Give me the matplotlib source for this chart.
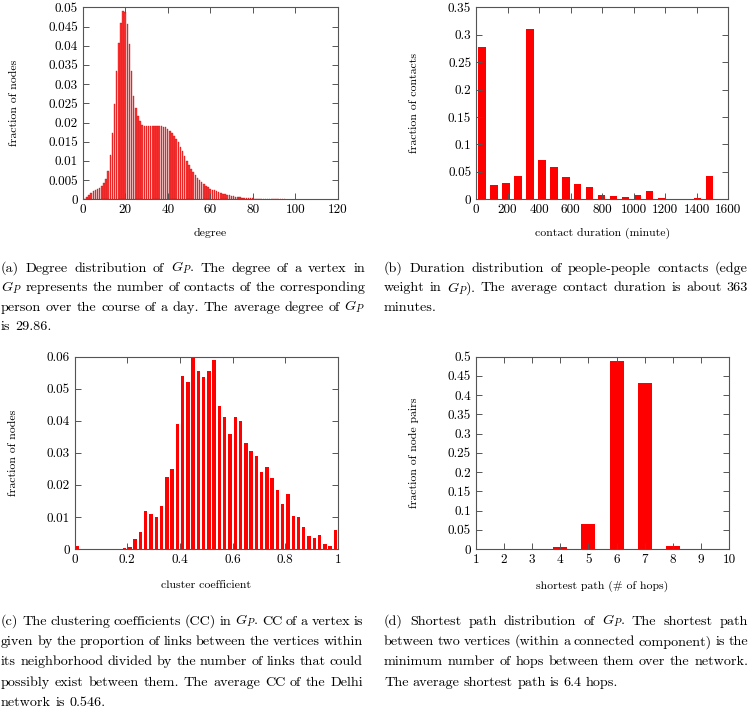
import matplotlib
matplotlib.use('Agg')
import matplotlib.pyplot as plt
import numpy as np
from matplotlib.ticker import FuncFormatter, MultipleLocator
from matplotlib.transforms import IdentityTransform

plt.rcParams['font.family'] = 'cmr10'
plt.rcParams['mathtext.fontset'] = 'cm'
plt.rcParams['axes.formatter.use_mathtext'] = True

# (a) degree distribution
degree = np.arange(1, 96)
deg_frac = [0.0002, 0.0006, 0.0011, 0.0017, 0.0021, 0.0024, 0.0027, 0.0030, 0.0035, 0.0042,
            0.0053, 0.0073, 0.0115, 0.0172, 0.0248, 0.0335, 0.0408, 0.0458, 0.0490, 0.0487,
            0.0457, 0.0405, 0.0335, 0.0268, 0.0238, 0.0218, 0.0203, 0.0194, 0.0191, 0.0191,
            0.0191, 0.0192, 0.0191, 0.0191, 0.0192, 0.0191, 0.0190, 0.0189, 0.0187, 0.0183,
            0.0178, 0.0172, 0.0165, 0.0157, 0.0148, 0.0137, 0.0125, 0.0112, 0.0100, 0.0089,
            0.0079, 0.0070, 0.0062, 0.0055, 0.0049, 0.0044, 0.0039, 0.0035, 0.0031, 0.0028,
            0.0025, 0.0023, 0.0021, 0.0019, 0.0017, 0.0015, 0.0013, 0.0012, 0.0010, 0.0009,
            0.0008, 0.0007, 0.0006, 0.0005, 0.00045, 0.0004, 0.00035, 0.0003, 0.0003, 0.00025,
            0.0002, 0.00018, 0.00015, 0.00012, 0.0001, 0.00009, 0.00008, 0.00007, 0.00006, 0.00005,
            0.00004, 0.00003, 0.00003, 0.00002, 0.00002]

# (b) contact duration (minutes)
dur_bins = np.arange(20) * 76 + 38
dur_frac = [0.278, 0.0255, 0.0305, 0.042, 0.310, 0.072, 0.059, 0.041, 0.028, 0.0225,
            0.008, 0.0067, 0.0049, 0.0085, 0.0158, 0.0019, 0.0007, 0.0012, 0.0017, 0.0425]

# (c) cluster coefficient
cc_bins = np.arange(50) * 0.02 + 0.01
cc_frac = [0.0008, 0, 0, 0, 0, 0, 0, 0, 0, 0.0002,
           0.0005, 0.003, 0.0052, 0.012, 0.011, 0.010, 0.0135, 0.0225, 0.025, 0.039,
           0.054, 0.052, 0.060, 0.0555, 0.0537, 0.0555, 0.059, 0.0447, 0.0413, 0.036,
           0.0412, 0.0398, 0.033, 0.0305, 0.029, 0.024, 0.0257, 0.022, 0.0185, 0.014,
           0.0172, 0.0102, 0.0099, 0.007, 0.004, 0.0034, 0.0045, 0.0015, 0.0008, 0.0058]

# (d) shortest path
hops = [2, 3, 4, 5, 6, 7, 8, 9]
hop_frac = [0, 0.0003, 0.005, 0.066, 0.488, 0.432, 0.007, 0.0002]

captions_a = ["(a) Degree distribution of $G_P$.  The degree of a vertex in",
              "$G_P$ represents the number of contacts of the corresponding",
              "person over the course of a day. The average degree of $G_P$",
              "is 29.86."]
captions_b = ["(b) Duration distribution of people-people contacts (edge",
              "weight in $G_P$). The average contact duration is about 363",
              "minutes."]
captions_c = ["(c) The clustering coefficients (CC) in $G_P$. CC of a vertex is",
              "given by the proportion of links between the vertices within",
              "its neighborhood divided by the number of links that could",
              "possibly exist between them. The average CC of the Delhi",
              "network is 0.546."]
captions_d = ["(d) Shortest path distribution of $G_P$.  The shortest path",
              "between two vertices (within a connected component) is the",
              "minimum number of hops between them over the network.",
              "The average shortest path is 6.4 hops."]

W, H = 750, 709
fig = plt.figure(figsize=(7.5, 7.09), dpi=100)


def px_axes(l, t, r, b):
    return fig.add_axes([l / W, (H - b) / H, (r - l) / W, (b - t) / H])


def style(ax, xlim, ylim, xstep, ystep, xlabel, ylabel, ylab_x, xlab_y):
    ax.set_xlim(*xlim)
    ax.set_ylim(*ylim)
    ax.xaxis.set_major_locator(MultipleLocator(xstep))
    ax.yaxis.set_major_locator(MultipleLocator(ystep))
    fmt = FuncFormatter(lambda v, p: '%g' % round(v, 6))
    ax.xaxis.set_major_formatter(fmt)
    ax.yaxis.set_major_formatter(fmt)
    ax.tick_params(direction='in', top=True, right=True, length=4, width=0.7,
                   color='#555555', labelsize=9.5, pad=3.5)
    for s in ax.spines.values():
        s.set_color('#555555')
        s.set_linewidth(0.8)
    ax.set_xlabel(xlabel, fontsize=8.5)
    ax.set_ylabel(ylabel, fontsize=8.5)
    ax.yaxis.set_label_coords(ylab_x, 0.5)
    ax.xaxis.set_label_coords(0.5, xlab_y)


ax1 = px_axes(82.7, 7.3, 337.7, 199.3)
ax1.bar(degree, deg_frac, width=0.72, color='#ff3333', edgecolor='#c01010', linewidth=0.25)
style(ax1, (0, 120), (0, 0.05), 20, 0.005, 'degree', 'fraction of nodes', -0.25, -0.15)

ax2 = px_axes(476, 7.3, 728.3, 199.3)
ax2.bar(dur_bins, dur_frac, width=46, color='#ff0000')
style(ax2, (0, 1600), (0, 0.35), 200, 0.05, 'contact duration (minute)',
      'fraction of contacts', -0.225, -0.15)

ax3 = px_axes(74.6, 356.7, 338, 549)
ax3.bar(cc_bins, cc_frac, width=0.013, color='#ff0000')
style(ax3, (0, 1), (0, 0.06), 0.2, 0.01, 'cluster coefficient', 'fraction of nodes',
      -0.215, -0.165)

ax4 = px_axes(475.7, 356.7, 729.3, 549)
ax4.bar(hops, hop_frac, width=0.5, color='#ff0000')
style(ax4, (1, 10), (0, 0.5), 1, 0.05, 'shortest path (# of hops)',
      'fraction of node pairs', -0.224, -0.165)

renderer = fig.canvas.get_renderer()


def caption(lines, x0, width, y_top, lh):
    # justified caption text, placed word by word in pixel coordinates
    for i, line in enumerate(lines):
        y = H - (y_top + i * lh)
        words = line.split()
        texts = [fig.text(0, y, wd, fontsize=10.2, transform=IdentityTransform(),
                          va='baseline', ha='left') for wd in words]
        widths = [t.get_window_extent(renderer).width for t in texts]
        if i < len(lines) - 1 and len(words) > 1:
            gap = (width - sum(widths)) / (len(words) - 1)
        else:
            gap = 4.3
        x = x0
        for t, w in zip(texts, widths):
            t.set_x(x)
            x += w + gap


caption(captions_a, 1, 364, 272, 19.4)
caption(captions_b, 384, 364, 272, 19.4)
caption(captions_c, 1, 362, 625, 20.2)
caption(captions_d, 384, 364, 625, 20.2)

fig.savefig('out.png', dpi=100)
